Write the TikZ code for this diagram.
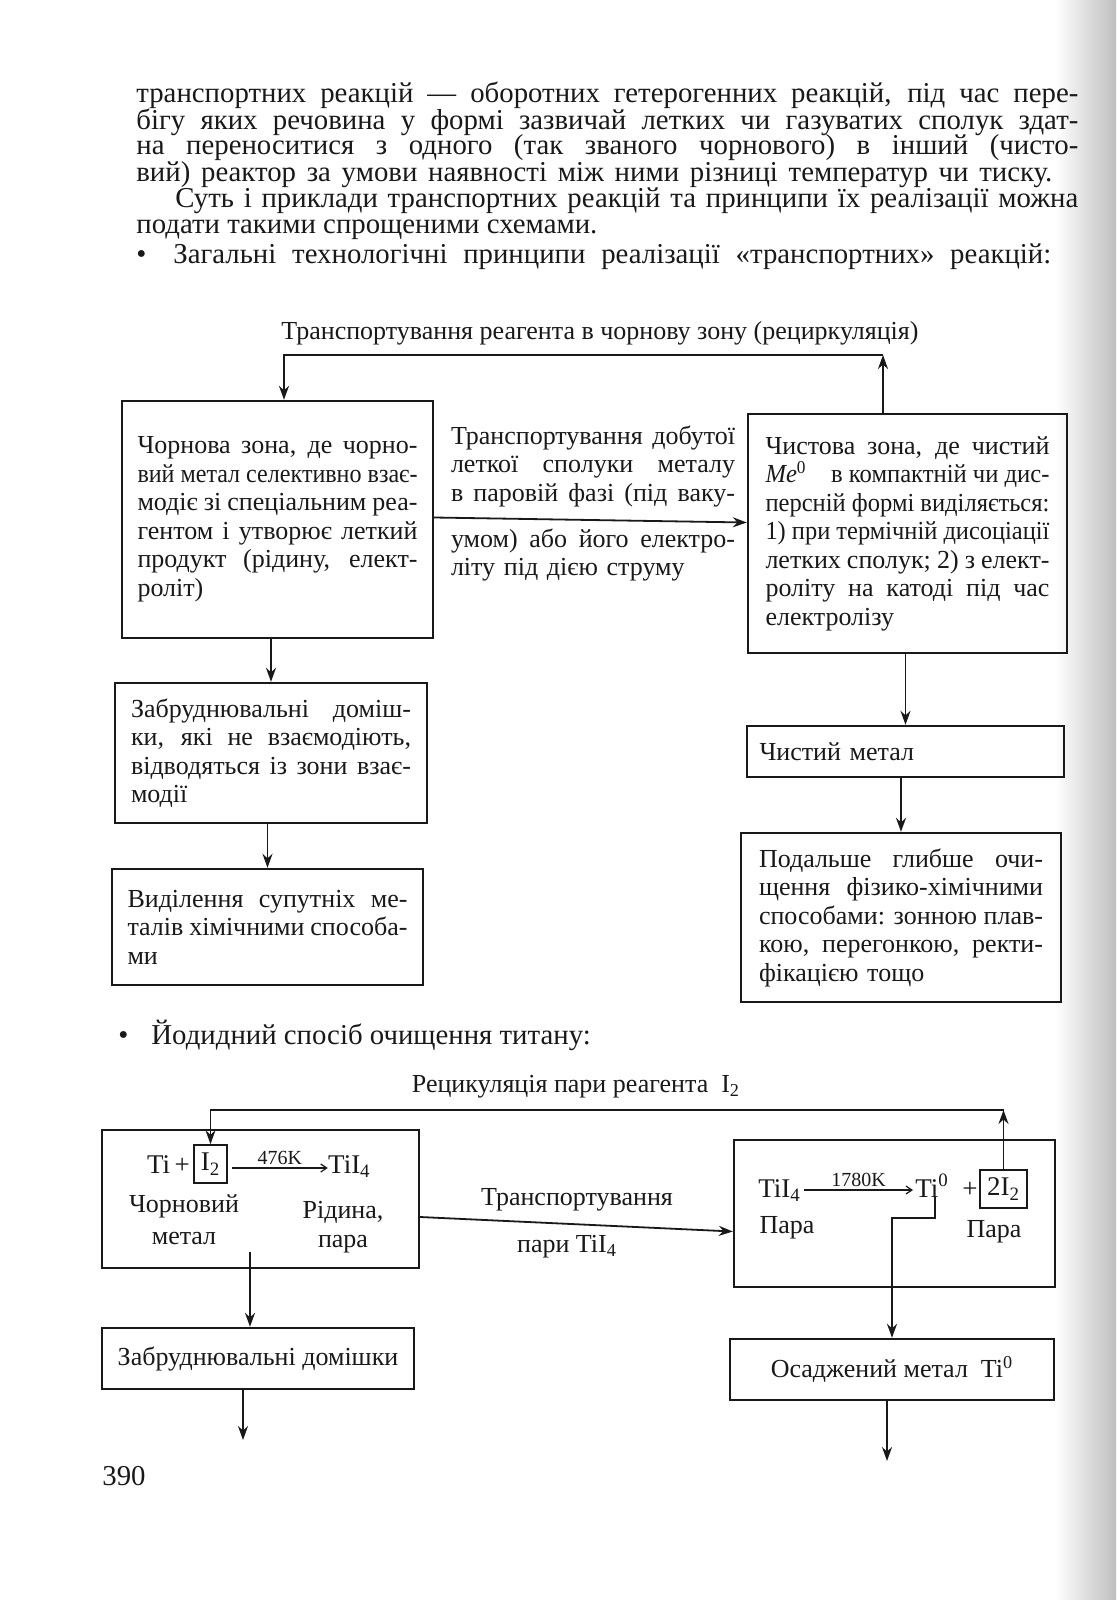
\documentclass[tikz,border=0pt]{standalone}
\usepackage{fontspec}
\usepackage{graphicx}
\setmainfont{Liberation Serif}
\usetikzlibrary{arrows.meta,calc}
\setlength\parindent{0pt}
\newcommand\J[2][140pt]{\leavevmode\begingroup\spaceskip=0pt\xspaceskip=0pt
  \setbox0=\hbox to #1{#2}%
  \ifnum\badness>10000 \resizebox{#1}{\height}{#2}\else\box0\fi\endgroup}
\newcommand\bodyfont{\fontsize{14.4}{13}\selectfont}
\newcommand\diafont{\fontsize{13}{14.25}\selectfont}
\newcommand\ffont{\fontsize{13.5}{15}\selectfont}
\newcommand\smallfont{\fontsize{10}{11}\selectfont}
\definecolor{ink}{gray}{0.1}
\begin{document}
\begin{tikzpicture}[x=0.5pt,y=-0.5pt,
  box/.style={draw=ink,line width=1.2pt,inner xsep=0pt,inner ysep=0pt,align=left,font=\diafont,text=ink},
  conn/.style={draw=ink,line width=0.9pt,-{Stealth[length=7pt,width=5pt]}},
  farr/.style={draw=ink,line width=0.6pt,-{Straight Barb[length=3pt,width=4pt]}},
  txt/.style={font=\diafont,text=ink,inner sep=0pt},
  ftxt/.style={font=\ffont,text=ink,inner sep=0pt},
  body/.style={font=\bodyfont,text=ink,inner sep=0pt,anchor=base west},
  sbox/.style={draw=ink,line width=0.8pt,inner sep=1.5pt,font=\ffont,text=ink}]
\useasboundingbox (0,0) rectangle (1116,1600);
\fill[white] (0,0) rectangle (1116,1600);
\shade[left color=white,right color=black!25] (1055,0) rectangle (1116,1600);

% body text
\node[body] (p1) at (136,103) {\J[471pt]{транспортних реакцій — оборотних гетерогенних реакцій, під час пере-}};
\node[body] (p2) at (136,129) {\J[471pt]{бігу яких речовина у формі зазвичай летких чи газуватих сполук здат-}};
\node[body] (p3) at (136,155) {\J[471pt]{на переноситися з одного (так званого чорнового) в інший (чисто-}};
\node[body] (p4) at (136,181) {\J[458pt]{вий) реактор за умови наявності між ними різниці температур чи тиску.}};
\node[body] (p5) at (175,207) {\J[451.5pt]{Суть і приклади транспортних реакцій та принципи їх реалізації можна}};
\node[body] (p6) at (136,233) {подати такими спрощеними схемами.};
\node[body] (bl1) at (136,263) {•};
\node[body] (p7) at (173,263) {\J[439pt]{Загальні технологічні принципи реалізації «транспортних» реакцій:}};

% top diagram
\node[txt] (t1) at (600,333) {Транспортування реагента в чорнову зону (рециркуляція)};

\node[box,text width=140pt,minimum width=155.5pt,minimum height=118.5pt] (b1) at (277.5,519.5)
 {\J{Чорнова зона, де чорно-}\\
  \J{вий метал селективно взає-}\\
  \J{модіє зі спеціальним реа-}\\
  \J{гентом і утворює леткий}\\
  \J{продукт (рідину, елект-}\\
  роліт)};

\node[box,text width=142pt,minimum width=159.5pt,minimum height=119.5pt] (b3) at (907.5,533.5)
 {\J[142pt]{Чистова зона, де чистий}\\
  \J[142pt]{\textit{Me}\textsuperscript{0}\quad в компактній чи дис-}\\
  \J[142pt]{персній формі виділяється:}\\
  \J[142pt]{1) при термічній дисоціації}\\
  \J[142pt]{летких сполук; 2) з елект-}\\
  \J[142pt]{роліту на катоді під час}\\
  електролізу};

\node[txt,align=left,text width=142pt] (mtA) at (593,466)
 {\J[142pt]{Транспортування добутої}\\
  \J[142pt]{леткої сполуки металу}\\
  \J[142pt]{в паровій фазі (під ваку-}};
\node[txt,align=left,text width=142pt] (mtB) at (593,555)
 {\J[142pt]{умом) або його електро-}\\
  літу під дією струму};

\node[box,text width=146pt,minimum width=158.5pt,minimum height=25.5pt] (b4) at (905.5,751.5) {Чистий метал};

\node[box,text width=142pt,minimum width=160pt,minimum height=84.5pt] (b5) at (901,917.5)
 {\J[142pt]{Подальше глибше очи-}\\
  \J[142pt]{щення фізико-хімічними}\\
  \J[142pt]{способами: зонною плав-}\\
  \J[142pt]{кою, перегонкою, ректи-}\\
  фікацією тощо};

\node[box,text width=140pt,minimum width=156pt,minimum height=70pt] (b2) at (271,753)
 {\J{Забруднювальні доміш-}\\
  \J{ки, які не взаємодіють,}\\
  \J{відводяться із зони взає-}\\
  модії};

\node[box,text width=140pt,minimum width=155.5pt,minimum height=58pt] (b6) at (267.5,927)
 {\J{Виділення супутніх ме-}\\
  \J{талів хімічними способа-}\\
  ми};

\coordinate (r1) at (883,355);
\coordinate (r2) at (284,355);
\draw[conn] (b3.north -| r1) -- (r1);
\draw[conn] (r1) -- (r2) -- (r2 |- b1.north);
\draw[conn] ([yshift=1pt]b1.east) -- ([yshift=5.5pt]b3.west);
\draw[conn] (b2.north |- b1.south) -- (b2.north);
\draw[conn] (b6.north |- b2.south) -- (b6.north);
\draw[conn] (b4.north |- b3.south) -- (b4.north);
\draw[conn] (b5.north |- b4.south) -- (b5.north);

% second bullet
\node[body] (bl2) at (118,1044) {•};
\node[body] (p8) at (151,1044) {Йодидний спосіб очищення титану:};

% bottom diagram
\node[txt] (t2) at (576,1087) {Рецикуляція пари реагента\ \ I\textsubscript{2}};

\node[box,minimum width=158.5pt,minimum height=69pt] (bA) at (260.5,1199) {};
\node[box,minimum width=160.5pt,minimum height=73.5pt] (bB) at (894.5,1213.5) {};
\node[box,minimum width=162pt,minimum height=30.5pt] (bO) at (892,1369.5) {Осаджений метал\ \ Ti\textsuperscript{0}};
\node[box,minimum width=156pt,minimum height=30.5pt] (bZ) at (258,1358.5) {Забруднювальні домішки};

% formula A
\node[sbox,minimum width=16.5pt,minimum height=19pt] (i2) at (210.5,1164) {I\textsubscript{2}};
\node[ftxt,anchor=base east] (tiA) at ($(i2.west)+(-3,9)$) {Ti\,+};
\node[ftxt,anchor=base west] (tiI4a) at ($(i2.east)+(100,9)$) {TiI\textsubscript{4}};
\draw[farr] ($(i2.east)+(4,4)$) -- ($(tiI4a.base west)+(0,-5)$)
  node[midway,above=1.5pt,txt,font=\smallfont] (k476) {476K};
\node[txt,align=center] (chm) at (184,1220) {Чорновий\\[1.75pt]метал};
\node[txt,align=center] (rid) at (343,1227) {Рідина,\\[0.5pt]пара};

% formula B
\node[ftxt,anchor=base west] (tiI4b) at (758,1197) {TiI\textsubscript{4}};
\node[ftxt,anchor=base west,inner xsep=1pt] (ti0) at (913,1197) {Ti\textsuperscript{0}};
\node[ftxt,anchor=base west] (plB) at (962,1197) {+};
\node[sbox,minimum width=23.5pt,minimum height=19pt] (i2b) at (1003.5,1189) {2I\textsubscript{2}};
\draw[farr] ($(tiI4b.base east)+(3,-7)$) -- ($(ti0.base west)+(0,-7)$)
  node[midway,above=1.5pt,txt,font=\smallfont] (k1780) {1780K};
\node[txt] (pL) at (787,1228) {Пара};
\node[txt] (pR) at (994,1232) {Пара};

\node[txt] (trT) at (577,1200) {Транспортування};
\node[txt] (trP) at (567,1247) {пари TiI\textsubscript{4}};

\coordinate (q1) at (1003.5,1110);
\coordinate (q2) at (210.5,1110);
\draw[conn] (i2b.north) -- (q1);
\draw[conn] (q1) -- (q2) -- (i2.north);
\draw[conn] ([yshift=-9pt]bA.east) -- ([yshift=-9pt]bB.west);

\coordinate (k1) at (935,1218);
\coordinate (k2) at (892,1218);
\draw[conn] (ti0.south -| k1) -- (k1) -- (k2) -- (k2 |- bO.north);

\coordinate (zs) at (250,1252);
\draw[conn] (zs) -- (zs |- bZ.north);
\coordinate (zo) at (243,1440);
\draw[conn] (bZ.south -| zo) -- (zo);
\coordinate (oo) at (887,1461);
\draw[conn] (bO.south -| oo) -- (oo);

\node[body] (pn) at (102,1485) {390};
\end{tikzpicture}
\end{document}
